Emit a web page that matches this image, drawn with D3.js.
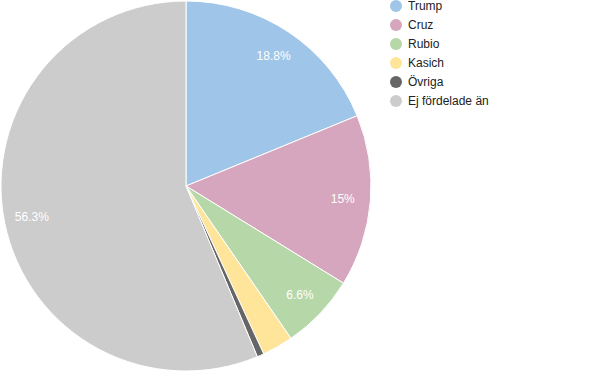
<!DOCTYPE html>
<html><head><meta charset="utf-8">
<script src="https://cdn.jsdelivr.net/npm/d3@7"></script>
<style>body{margin:0;background:#fff}svg{display:block}</style>
</head><body>
<svg id="c" width="600" height="371"></svg>
<script>
const categories = ["Trump","Cruz","Rubio","Kasich","Övriga","Ej fördelade än"];
const values = [18.8, 15, 6.6, 2.7, 0.6, 56.3];
const colors = ["#9fc5e8","#d5a6bd","#b6d7a8","#ffe599","#666666","#cccccc"];

const svg = d3.select("#c");
const cx = 186, cy = 186, R = 185;
const pie = d3.pie().sort(null).value(d => d.v);
const data = pie(categories.map((c,i)=>({c, v: values[i], col: colors[i]})));
const arc = d3.arc().innerRadius(0).outerRadius(R);
const g = svg.append("g").attr("transform",`translate(${cx},${cy})`);
g.selectAll("path").data(data).join("path")
  .attr("d", arc).attr("fill", d=>d.data.col)
  .attr("stroke","#fff").attr("stroke-width",1);
const total = d3.sum(values);
const lab = d3.arc().innerRadius(R*0.85).outerRadius(R*0.85);
g.selectAll("text").data(data.filter(d=>d.data.v/total>=0.05)).join("text")
  .attr("transform", d=>`translate(${lab.centroid(d)})`)
  .attr("text-anchor","middle").attr("dy","0.35em")
  .attr("fill","#fff").attr("font-family","Liberation Sans, Arial, sans-serif")
  .attr("font-size",12)
  .text(d=>d3.format(".3~")(d.data.v)+"%");

const lg = svg.append("g");
const items = lg.selectAll("g").data(categories).join("g")
  .attr("transform",(d,i)=>`translate(396,${6+i*19})`);
items.append("circle").attr("r",6).attr("fill",(d,i)=>colors[i]);
items.append("text").attr("x",12).attr("dy","0.35em")
  .attr("font-family","Liberation Sans, Arial, sans-serif").attr("font-size",12)
  .attr("fill","#222").text(d=>d);
</script>
</body></html>
